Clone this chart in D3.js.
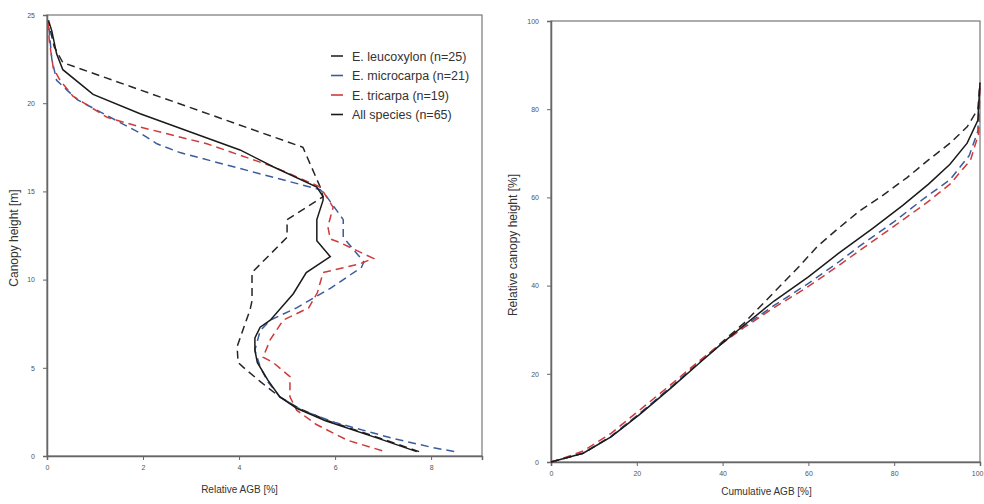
<!DOCTYPE html>
<html><head><meta charset="utf-8">
<script src="https://cdn.jsdelivr.net/npm/d3@7"></script>
<style>body{margin:0;background:#fff}svg{display:block}</style>
</head><body>
<svg id="c" width="984" height="504"></svg>
<script>
// ---- data: left panel, [relative AGB %, canopy height m]
const leucoxylon = [[7.75,0.25],[6.95,1],[5.85,2],[5.25,2.7],[4.85,3.35],[4.45,4.2],[4.08,5.05],[3.98,5.3],[3.96,6.2],[4.1,7.3],[4.23,8.3],[4.27,8.8],[4.27,10.4],[5.0,12.4],[5.0,13.4],[5.75,14.7],[5.69,15.25],[5.33,17.5],[0.33,22.3],[0.15,23.2],[0.03,24.6]];
const microcarpa = [[8.48,0.25],[8.0,0.5],[7.2,1],[6.0,1.9],[5.3,2.6],[4.85,3.35],[4.6,4.2],[4.44,5.05],[4.33,6.0],[4.44,7.1],[4.65,7.7],[5.2,8.4],[5.9,9.5],[6.55,10.7],[6.6,11.0],[6.17,12.4],[6.17,13.4],[5.8,14.8],[5.69,15.1],[4.71,15.8],[2.77,17.2],[2.29,17.7],[1.94,18.3],[0.63,20.2],[0.2,21.3],[0.1,22.5],[0.03,24.6]];
const tricarpa = [[6.98,0.3],[6.25,0.9],[5.6,1.8],[5.2,2.6],[5.06,3.35],[5.06,4.5],[4.71,5.3],[4.5,5.6],[4.65,6.6],[4.92,7.7],[5.45,8.4],[5.63,9.25],[5.75,10.4],[6.52,10.9],[6.8,11.2],[6.1,12.1],[5.9,12.3],[5.85,13.0],[5.96,14.1],[5.69,15.25],[4.71,16.4],[3.33,17.7],[1.94,18.65],[1.25,19.2],[0.54,20.4],[0.27,21.3],[0.13,22.0],[0.05,23.5],[0.02,24.6]];
const allSpecies = [[7.7,0.25],[6.9,1],[5.8,2],[5.2,2.7],[4.85,3.35],[4.6,4.3],[4.38,5.3],[4.33,6.0],[4.33,6.7],[4.44,7.3],[4.65,7.7],[5.13,9.2],[5.4,10.4],[5.9,11.3],[5.62,12.2],[5.62,13.4],[5.75,14.5],[5.75,14.7],[5.62,15.25],[4.71,16.4],[4.02,17.35],[3.46,17.9],[1.94,19.4],[0.96,20.5],[0.33,21.9],[0.2,22.8],[0.1,24.1],[0.03,24.7]];

// ---- data: right panel, [cumulative AGB %, relative canopy height %]
const cumLeucoxylon = [[0,0],[3,0.8],[7.5,2],[14,5.8],[20.7,11],[28,17],[35,23],[40,27.3],[45,31.5],[52,38.5],[58,44.5],[62,48.8],[67,53],[72,57],[77,60.2],[83,64.5],[88,68.5],[93,72.3],[97,76],[99.5,80],[100,86]];
const cumMicrocarpa = [[0,0],[3,0.8],[7.5,2],[14,5.8],[20.7,11],[28,17],[35,23],[40,27],[45,30.8],[52,35.5],[60,40.5],[67,45.3],[72,49],[80,54.5],[87,59.8],[93,64],[97.5,69.5],[99.5,75],[100,86]];
const cumTricarpa = [[0,0],[3,0.9],[7.5,2.5],[14,6.5],[20.7,11.8],[28,17.6],[35,23.3],[40,27],[45,30.5],[52,35],[60,39.8],[67,44.5],[72,48],[80,53.5],[87.6,58.8],[93,63],[97.8,68.5],[99.7,74.5],[100,86]];
const cumAll = [[0,0],[3,0.8],[7.5,2],[14,5.7],[20.7,10.8],[28,16.8],[35,22.8],[40,27],[45,31],[52,36.5],[60,42],[67,47.3],[75,53],[82,58.2],[88,63],[93,67.5],[97,72.3],[99.5,77.5],[100,86]];

const leftXTicks = [0,2,4,6,8];
const leftYTicks = [0,5,10,15,20,25];
const rightXTicks = [0,20,40,60,80,100];
const rightYTicks = [0,20,40,60,80,100];
const legendLabels = ["E. leucoxylon (n=25)","E. microcarpa (n=21)","E. tricarpa (n=19)","All species (n=65)"];

// ---- drawing
const svg = d3.select("#c");
const font = "Liberation Sans, Arial, sans-serif";
const styles = [
  {color:"#262626", dash:"8,5"},
  {color:"#3b5c9c", dash:"8,5"},
  {color:"#cf3a3a", dash:"8,5"},
  {color:"#1a1a1a", dash:null}
];

function panel(cfg){
  const g = svg.append("g");
  const x = d3.scaleLinear().domain(cfg.xd).range(cfg.xr);
  const y = d3.scaleLinear().domain(cfg.yd).range(cfg.yr);
  g.append("rect").attr("x",cfg.xr[0]).attr("y",cfg.yr[1])
    .attr("width",cfg.xr[1]-cfg.xr[0]).attr("height",cfg.yr[0]-cfg.yr[1])
    .attr("fill","none").attr("stroke","#777").attr("stroke-width",1.2);
  const xa = g.append("g").attr("transform",`translate(0,${cfg.yr[0]})`)
    .call(d3.axisBottom(x).tickValues(cfg.xt).tickSize(4).tickPadding(5).tickFormat(d3.format("d")));
  const ya = g.append("g").attr("transform",`translate(${cfg.xr[0]},0)`)
    .call(d3.axisLeft(y).tickValues(cfg.yt).tickSize(4).tickPadding(8).tickFormat(d3.format("d")));
  [xa,ya].forEach(a=>{
    a.select(".domain").attr("stroke","#666").attr("stroke-width",1.5);
    a.selectAll(".tick line").attr("stroke","#666");
    a.selectAll(".tick text").attr("fill","#555").style("font-family",font).style("font-size","7px");
  });
  if (cfg.lastEnd) {
    xa.selectAll(".tick text").filter(d=>d===cfg.xt[cfg.xt.length-1])
      .attr("text-anchor","end").attr("dx","3px");
  }
  const line = d3.line().x(d=>x(d[0])).y(d=>y(d[1]));
  cfg.series.forEach((s,i)=>{
    g.append("path").datum(s).attr("d",line).attr("fill","none")
      .attr("stroke",styles[i].color).attr("stroke-width",1.5)
      .attr("stroke-dasharray",styles[i].dash);
  });
  g.append("text").attr("x",(cfg.xr[0]+cfg.xr[1])/2 + cfg.xlOff).attr("y",cfg.xlY)
    .attr("text-anchor","middle").style("font-family",font).style("font-size","10px").attr("fill","#333")
    .text(cfg.xl);
  g.append("text").attr("transform",`translate(${cfg.ylX},${cfg.ylY}) rotate(-90)`)
    .attr("text-anchor","middle").style("font-family",font).style("font-size",cfg.ylSize).attr("fill","#333")
    .text(cfg.yl);
  return {x,y,g};
}

panel({xd:[0,9.06], xr:[47,482], yd:[0,25], yr:[456,15],
  xt:leftXTicks, yt:leftYTicks, series:[leucoxylon,microcarpa,tricarpa,allSpecies],
  xl:"Relative AGB [%]", xlY:493, xlOff:-25, yl:"Canopy height [m]", ylX:18, ylY:238, ylSize:"12px"});

panel({xd:[0,100], xr:[551,980], yd:[0,100], yr:[462,21],
  xt:rightXTicks, yt:rightYTicks, series:[cumLeucoxylon,cumMicrocarpa,cumTricarpa,cumAll],
  xl:"Cumulative AGB [%]", xlY:495, xlOff:1, yl:"Relative canopy height [%]", ylX:517, ylY:245, ylSize:"12px", lastEnd:true});

// legend
const lg = svg.append("g");
legendLabels.forEach((t,i)=>{
  const yy = 56 + i*19.5;
  lg.append("line").attr("x1",331).attr("x2",343).attr("y1",yy).attr("y2",yy)
    .attr("stroke",styles[i].color).attr("stroke-width",1.6);
  lg.append("text").attr("x",352).attr("y",yy+4.5).style("font-family",font)
    .style("font-size","12.5px").attr("fill","#333").text(t);
});
</script>
</body></html>
